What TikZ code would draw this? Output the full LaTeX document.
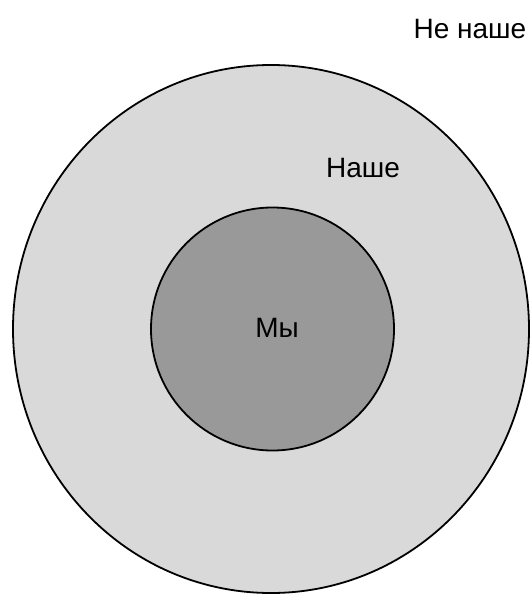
\documentclass[tikz,border=0pt]{standalone}
\usepackage{fontspec}
\setmainfont{Liberation Sans}
\usetikzlibrary{shapes.geometric,positioning}
\definecolor{zonelight}{RGB}{217,217,217}
\definecolor{zonedark}{RGB}{153,153,153}

\begin{document}
\begin{tikzpicture}[x=1pt, y=-1pt,
  zone/.style={draw, line width=1.8pt, inner sep=0pt},
  lbl/.style={anchor=base, inner sep=0pt, font=\fontsize{28}{32}\selectfont}
]
\useasboundingbox (0,0) rectangle (530,594);
\node[zone, ellipse, fill=zonelight, minimum width=516pt, minimum height=528pt] (nashe) at (271,329) {};
\node[zone, circle, fill=zonedark, minimum size=243pt] (my) at (272.5,329) {};

\node[lbl] (lblnenashe) at (470,39) {Не наше};
\node[lbl] (lblnashe) at (363,177) {Наше};
\node[lbl] (lblmy) at (277,337) {Мы};
\end{tikzpicture}
\end{document}
